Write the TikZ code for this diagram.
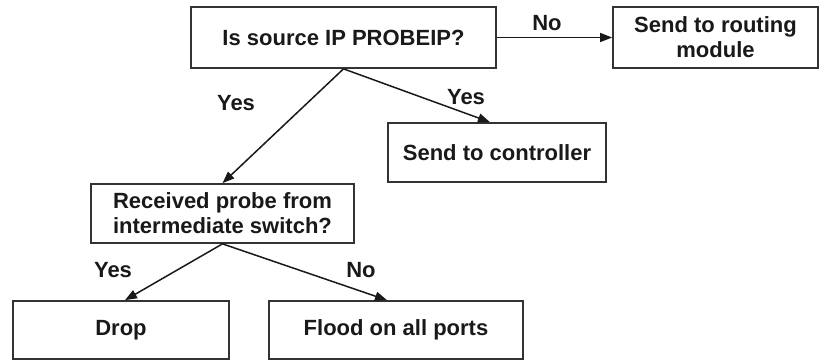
\documentclass[tikz,border=0pt]{standalone}
\usepackage{fontspec}
\setmainfont{Liberation Sans}
\usetikzlibrary{arrows.meta}
\begin{document}
\begin{tikzpicture}[x=1pt,y=-1pt,
  box/.style={draw=black!80,line width=1.7pt,fill=white,inner sep=0pt,
    align=center,font=\bfseries\fontsize{22}{25}\selectfont,text=black!90},
  arr/.style={draw=black!90,line width=1.5pt,-{Triangle[length=12pt,width=9pt]}},
  lbl/.style={font=\bfseries\fontsize{22}{25}\selectfont,text=black!90,inner sep=0pt}]
\useasboundingbox (0,0) rectangle (819,360);
\node[box,minimum width=305pt,minimum height=61pt] (q1) at (343.5,37.5) {Is source IP PROBEIP?};
\node[box,minimum width=205pt,minimum height=61pt] (route) at (715.5,37.5) {Send to routing\\module};
\node[box,minimum width=218pt,minimum height=59pt] (ctrl) at (497,152.5) {Send to controller};
\node[box,minimum width=263pt,minimum height=59pt] (q2) at (222.5,213.5) {Received probe from\\intermediate switch?};
\node[box,minimum width=216pt,minimum height=58pt] (drop) at (121,330) {Drop};
\node[box,minimum width=254pt,minimum height=58pt] (flood) at (396,330) {Flood on all ports};

\draw[arr] (q1.east) -- (route.west);
\draw[arr] (q1.south) -- (q2.north);
\draw[arr] (q1.south) -- ([xshift=-7pt]ctrl.north);
\draw[arr] (q2.south) -- ([xshift=4pt]drop.north);
\draw[arr] (q2.south) -- ([xshift=-9pt]flood.north);

\node[lbl] (lno1) at (547,23) {No};
\node[lbl] (lyes1) at (236,103) {Yes};
\node[lbl] (lyes2) at (466,97) {Yes};
\node[lbl] (lyes3) at (113,270) {Yes};
\node[lbl] (lno2) at (361,270) {No};
\end{tikzpicture}
\end{document}
